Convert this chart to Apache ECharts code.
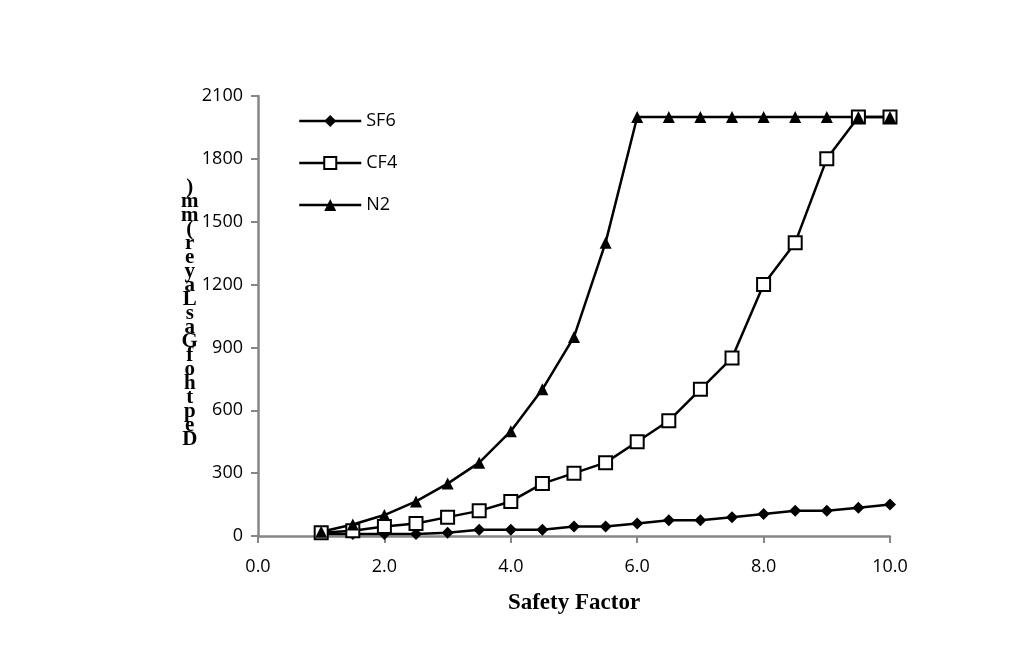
<!DOCTYPE html>
<html>
<head>
<meta charset="utf-8">
<script src="https://cdn.jsdelivr.net/npm/echarts@6/dist/echarts.min.js"></script>
<style>
html,body{margin:0;padding:0;background:#fff;}
#chart{width:1022px;height:647px;}
</style>
</head>
<body>
<div id="chart"></div>
<script>
const xValues = [1.0,1.5,2.0,2.5,3.0,3.5,4.0,4.5,5.0,5.5,6.0,6.5,7.0,7.5,8.0,8.5,9.0,9.5,10.0];
const sf6 = [10,10,10,10,15,30,30,30,45,45,60,75,75,90,105,120,120,135,150];
const cf4 = [15,25,45,60,90,120,165,250,300,350,450,550,700,850,1200,1400,1800,2000,2000];
const n2  = [20,55,100,165,250,350,500,700,950,1400,2000,2000,2000,2000,2000,2000,2000,2000,2000];
const seriesNames = ['SF6','CF4','N2'];
const yTitle = 'Depth of Gas Layer (mm)';
const xTitle = 'Safety Factor';

const pair = arr => arr.map((v,i)=>[xValues[i], v]);
const stackedTitle = yTitle.replace(/\s/g,'').split('').reverse().join('\n');

const chart = echarts.init(document.getElementById('chart'));
const axisColor = '#868686';
const lineStyle = {color:'#000', width:2.5};
chart.setOption({
  animation:false,
  backgroundColor:'#fff',
  grid:{left:258, right:132, top:96, bottom:111},
  legend:{
    orient:'vertical', left:293, top:107, itemWidth:62, itemHeight:15, itemGap:24,
    lineStyle:{width:2.5},
    textStyle:{fontFamily:'Open Sans', fontSize:18, color:'#000'},
    data:seriesNames
  },
  xAxis:{
    type:'value', min:0, max:10, interval:2,
    axisLine:{lineStyle:{color:axisColor, width:2.5}},
    axisTick:{show:true, length:7, lineStyle:{color:axisColor, width:2}},
    splitLine:{show:false},
    axisLabel:{formatter:v=>v.toFixed(1), color:'#000', fontFamily:'Open Sans', fontSize:18, margin:22},
    name:xTitle, nameLocation:'middle', nameGap:56,
    nameTextStyle:{fontFamily:'Liberation Serif', fontWeight:'bold', fontSize:23, color:'#000'}
  },
  yAxis:{
    type:'value', min:0, max:2100, interval:300,
    axisLine:{show:true, lineStyle:{color:axisColor, width:2.5}},
    axisTick:{show:true, length:7, lineStyle:{color:axisColor, width:2}},
    splitLine:{show:false},
    axisLabel:{formatter:v=>String(v), color:'#000', fontFamily:'Open Sans', fontSize:18, margin:15}
  },
  graphic:[{
    type:'text', left:181, top:177,
    style:{text:stackedTitle, font:'bold 21px "Liberation Serif"', fill:'#000', lineHeight:14, textAlign:'center'}
  }],
  series:[
    {name:'SF6', type:'line', data:pair(sf6), symbol:'diamond', symbolSize:12,
      itemStyle:{color:'#000'}, lineStyle:lineStyle},
    {name:'CF4', type:'line', data:pair(cf4), symbol:'rect', symbolSize:13,
      itemStyle:{color:'#fff', borderColor:'#000', borderWidth:2}, lineStyle:lineStyle},
    {name:'N2', type:'line', data:pair(n2), symbol:'triangle', symbolSize:12,
      itemStyle:{color:'#000'}, lineStyle:lineStyle}
  ]
});
</script>
</body>
</html>
